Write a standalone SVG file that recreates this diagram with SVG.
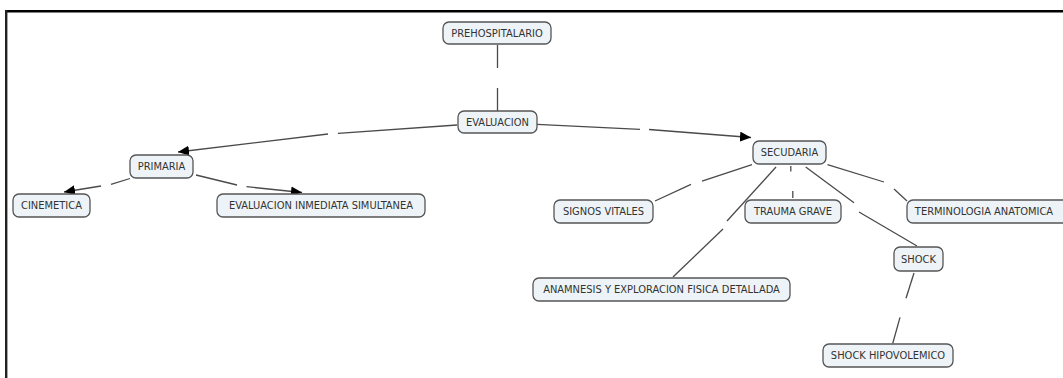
<svg xmlns="http://www.w3.org/2000/svg" width="1063" height="378" viewBox="0 0 1063 378">
<style>
.n rect{fill:#edf3f6;stroke:#555;stroke-width:1.3}
.n text{font-family:"DejaVu Sans Condensed","DejaVu Sans",Verdana,sans-serif;font-stretch:condensed;font-size:11px;fill:#333;text-anchor:middle;dominant-baseline:central}
.c line{stroke:#4a4a4a;stroke-width:1.3;fill:none}
.c line.a{marker-end:url(#ah)}
</style>
<defs>
<marker id="ah" markerUnits="userSpaceOnUse" markerWidth="12" markerHeight="10" refX="11" refY="5" orient="auto">
<path d="M0,0 L11,5 L0,10 Z" fill="#000"/>
</marker>
</defs>
<rect width="1063" height="378" fill="#fff"/>
<g id="frame">
<line x1="5" y1="11.2" x2="1063" y2="11.2" stroke="#000" stroke-width="2.6"/>
<line x1="6.2" y1="10" x2="6.2" y2="378" stroke="#222" stroke-width="2.4"/>
</g>
<g class="c" id="connectors">
<line x1="497.5" y1="45" x2="497.5" y2="68"/>
<line x1="497.5" y1="88" x2="497.5" y2="111"/>
<line x1="457" y1="125" x2="338" y2="133.3"/>
<line class="a" x1="328" y1="134" x2="178" y2="152"/>
<line x1="537" y1="124.3" x2="640" y2="129.3"/>
<line class="a" x1="649" y1="129.5" x2="751" y2="137.5"/>
<line x1="130" y1="178.5" x2="111" y2="184.3"/>
<line class="a" x1="101" y1="186" x2="64" y2="192"/>
<line x1="196" y1="175" x2="237" y2="185"/>
<line class="a" x1="246.5" y1="186.7" x2="302" y2="192.5"/>
<line x1="752" y1="164.6" x2="702" y2="181.2"/>
<line x1="691" y1="184.4" x2="655" y2="201"/>
<line x1="776" y1="167" x2="727" y2="221"/>
<line x1="723" y1="229" x2="673" y2="277"/>
<line x1="790.8" y1="166" x2="790.8" y2="171.5"/>
<line x1="792.8" y1="191" x2="792.8" y2="198"/>
<line x1="805.7" y1="167" x2="854" y2="202.7"/>
<line x1="859" y1="212" x2="917" y2="246"/>
<line x1="827.5" y1="164.6" x2="884" y2="182"/>
<line x1="894" y1="189" x2="907" y2="201"/>
<line x1="914" y1="273" x2="906" y2="298.3"/>
<line x1="900" y1="317.3" x2="892.7" y2="343.5"/>
</g>
<g class="n" id="prehospitalario"><rect x="443" y="22" width="108" height="22" rx="6"/><text x="497" y="33">PREHOSPITALARIO</text></g>
<g class="n" id="evaluacion"><rect x="458" y="111" width="79" height="22" rx="6"/><text x="497.5" y="122">EVALUACION</text></g>
<g class="n" id="primaria"><rect x="130" y="155" width="63" height="23" rx="6"/><text x="161.5" y="166.5">PRIMARIA</text></g>
<g class="n" id="cinemetica"><rect x="13" y="194" width="77" height="23" rx="6"/><text x="51.5" y="205.5">CINEMETICA</text></g>
<g class="n" id="evaluacion-inmediata"><rect x="217" y="194" width="208" height="23" rx="6"/><text x="321" y="205.5">EVALUACION INMEDIATA SIMULTANEA</text></g>
<g class="n" id="secudaria"><rect x="753" y="141" width="73" height="23" rx="6"/><text x="789.5" y="152.5">SECUDARIA</text></g>
<g class="n" id="signos-vitales"><rect x="554" y="200" width="99" height="23" rx="6"/><text x="603.5" y="211.5">SIGNOS VITALES</text></g>
<g class="n" id="trauma-grave"><rect x="745" y="200" width="96" height="23" rx="6"/><text x="793" y="211.5">TRAUMA GRAVE</text></g>
<g class="n" id="terminologia"><rect x="907" y="200" width="162" height="23" rx="6"/><text x="984" y="211.5">TERMINOLOGIA ANATOMICA</text></g>
<g class="n" id="shock"><rect x="894" y="247" width="49" height="24" rx="6"/><text x="918.5" y="259">SHOCK</text></g>
<g class="n" id="anamnesis"><rect x="533" y="278" width="257" height="23" rx="6"/><text x="661.5" y="289.5">ANAMNESIS Y EXPLORACION FISICA DETALLADA</text></g>
<g class="n" id="shock-hipovolemico"><rect x="823" y="344" width="130" height="23" rx="6"/><text x="888" y="355.5">SHOCK HIPOVOLEMICO</text></g>
</svg>
